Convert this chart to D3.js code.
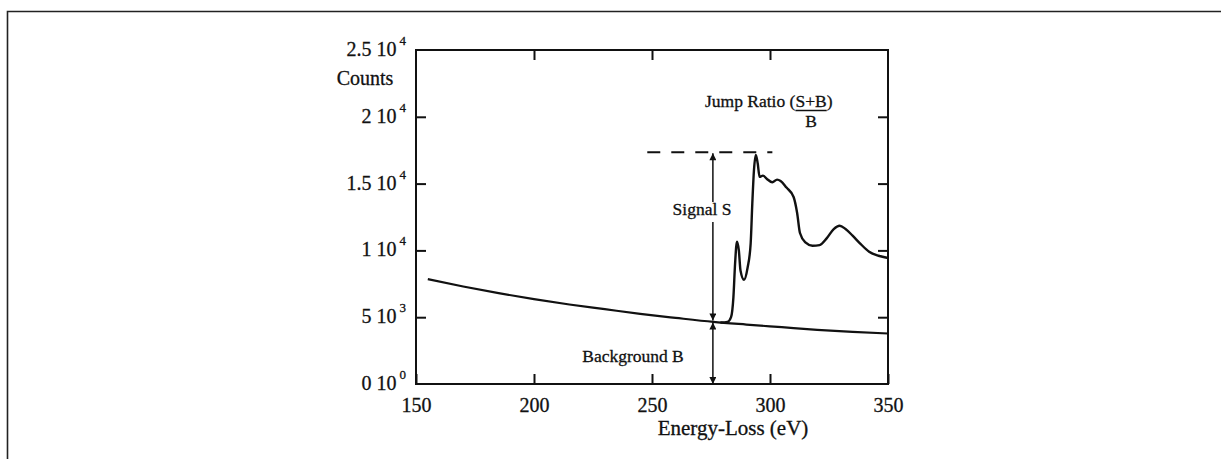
<!DOCTYPE html>
<html>
<head>
<meta charset="utf-8">
<script src="https://cdn.jsdelivr.net/npm/d3@7"></script>
<style>
  body { margin: 0; background: #fff; }
  svg text { font-family: "Liberation Serif", "DejaVu Serif", serif; fill: #111; stroke: #111; stroke-width: 0.3px; }
</style>
</head>
<body>
<div id="chart"></div>
<script>
// data
const xTicks = [150, 200, 250, 300, 350];
const yTicks = [0, 5000, 10000, 15000, 20000, 25000];
const yTickMantissa = ["0", "5", "1", "1.5", "2", "2.5"];
const yTickExponent = ["0", "3", "4", "4", "4", "4"];

// background curve (eV, counts)
const bgEnergy = [155, 170, 185, 200, 215, 230, 245, 260, 276, 290, 305, 320, 335, 350];
const bgCounts = [7850, 7300, 6800, 6350, 5950, 5600, 5250, 4950, 4650, 4450, 4250, 4050, 3900, 3780];

// edge spectrum (eV, counts)
const specEnergy = [279, 282, 283.5, 284.5, 285.2, 286, 286.8, 287.5, 289, 290.5, 291.8, 292.5, 293.2, 294,
  294.8, 295.6, 297, 298.7, 301, 303, 304.5, 307, 310, 311.5, 312.7, 315, 318, 321, 324, 327, 329.5,
  332, 335, 338, 342, 346, 350];
const specCounts = [4600, 4650, 5000, 6500, 9000, 10650, 10000, 8500, 7800, 8700, 10500, 13500, 16000, 17150,
  16500, 15500, 15600, 15350, 15100, 15300, 15200, 14700, 14000, 12800, 11300, 10600, 10350, 10400, 10900, 11600, 11850,
  11600, 11100, 10550, 9900, 9600, 9430];

// annotation values
const edgeEnergy = 275.8;
const edgeBackground = 4680;
const peakLevel = 17350;
const dashFrom = 248, dashTo = 301;

const svgWidth = 1221, svgHeight = 459;
const plot = { left: 416, right: 888, top: 50, bottom: 384 };

const svg = d3.select("#chart").append("svg")
  .attr("width", svgWidth)
  .attr("height", svgHeight);

// page frame (top and left edge only)
svg.append("path")
  .attr("d", `M7.5,${svgHeight} V11.5 H${svgWidth}`)
  .attr("fill", "none")
  .attr("stroke", "#222")
  .attr("stroke-width", 1.6);

const x = d3.scaleLinear().domain([150, 350]).range([plot.left, plot.right]);
const y = d3.scaleLinear().domain([0, 25000]).range([plot.bottom, plot.top]);

// axes with inward ticks
const tick = 10;
const gx = svg.append("g")
  .attr("transform", `translate(0,${plot.bottom})`)
  .call(d3.axisBottom(x).tickValues(xTicks).tickSizeInner(-tick).tickSizeOuter(0).tickPadding(14));
gx.selectAll("text").style("font-size", "20px");

svg.append("g")
  .attr("transform", `translate(0,${plot.top})`)
  .call(d3.axisTop(x).tickValues(xTicks.slice(1, -1)).tickSizeInner(-tick).tickSizeOuter(0).tickFormat(""));

svg.append("g")
  .attr("transform", `translate(${plot.left},0)`)
  .call(d3.axisLeft(y).tickValues(yTicks.slice(1, -1)).tickSizeInner(-tick).tickSizeOuter(0).tickFormat(""));

svg.append("g")
  .attr("transform", `translate(${plot.right},0)`)
  .call(d3.axisRight(y).tickValues(yTicks.slice(1, -1)).tickSizeInner(-tick).tickSizeOuter(0).tickFormat(""));

svg.selectAll(".domain").remove();
svg.selectAll(".tick line").attr("stroke", "#111").attr("stroke-width", 2);
svg.selectAll(".tick text").attr("fill", "#111");

// plot box
svg.append("rect")
  .attr("x", plot.left).attr("y", plot.top)
  .attr("width", plot.right - plot.left).attr("height", plot.bottom - plot.top)
  .attr("fill", "none").attr("stroke", "#111").attr("stroke-width", 2);

// y tick labels like "2.5 10^4"
const yLab = svg.selectAll(".ylab")
  .data(yTicks)
  .enter()
  .append("text")
  .attr("class", "ylab")
  .attr("x", plot.left - 10)
  .attr("y", d => y(d) + 6)
  .attr("text-anchor", "end")
  .style("font-size", "20px");
yLab.append("tspan").text((d, i) => yTickMantissa[i] + " 10");
yLab.append("tspan")
  .attr("dx", 3)
  .attr("dy", -11)
  .style("font-size", "13px")
  .text((d, i) => yTickExponent[i]);

svg.append("text")
  .attr("x", 365).attr("y", 85)
  .attr("text-anchor", "middle")
  .style("font-size", "20px")
  .text("Counts");

svg.append("text")
  .attr("x", 733).attr("y", 435)
  .attr("text-anchor", "middle")
  .style("font-size", "21px")
  .text("Energy-Loss (eV)");

// curves
const line = d3.line()
  .x(d => x(d[0]))
  .y(d => y(d[1]))
  .curve(d3.curveMonotoneX);

svg.append("path")
  .datum(d3.zip(bgEnergy, bgCounts))
  .attr("d", line)
  .attr("fill", "none").attr("stroke", "#111").attr("stroke-width", 2.2);

svg.append("path")
  .datum(d3.zip(specEnergy, specCounts))
  .attr("d", line)
  .attr("fill", "none").attr("stroke", "#111").attr("stroke-width", 2.4)
  .attr("stroke-linejoin", "round");

// dashed peak level
svg.append("line")
  .attr("x1", x(dashFrom)).attr("x2", x(dashTo))
  .attr("y1", y(peakLevel)).attr("y2", y(peakLevel))
  .attr("stroke", "#111").attr("stroke-width", 2)
  .attr("stroke-dasharray", "13,11");

// arrows
const defs = svg.append("defs");
defs.append("marker")
  .attr("id", "head")
  .attr("viewBox", "0 0 10 10")
  .attr("refX", 10).attr("refY", 5)
  .attr("markerWidth", 10).attr("markerHeight", 7)
  .attr("markerUnits", "userSpaceOnUse")
  .attr("orient", "auto-start-reverse")
  .append("path")
  .attr("d", "M0,0 L10,5 L0,10 Z")
  .attr("fill", "#111");

const ax = x(edgeEnergy);
const signalTextY = 215;

// signal arrow, broken by its label
svg.append("line")
  .attr("x1", ax).attr("x2", ax)
  .attr("y1", y(peakLevel) + 1).attr("y2", signalTextY - 13)
  .attr("stroke", "#111").attr("stroke-width", 1.5)
  .attr("marker-start", "url(#head)");
svg.append("line")
  .attr("x1", ax).attr("x2", ax)
  .attr("y1", signalTextY + 7).attr("y2", y(edgeBackground) - 1)
  .attr("stroke", "#111").attr("stroke-width", 1.5)
  .attr("marker-end", "url(#head)");

// background arrow
svg.append("line")
  .attr("x1", ax).attr("x2", ax)
  .attr("y1", y(edgeBackground) + 1).attr("y2", y(0))
  .attr("stroke", "#111").attr("stroke-width", 1.5)
  .attr("marker-start", "url(#head)")
  .attr("marker-end", "url(#head)");

svg.append("text")
  .attr("x", 702).attr("y", signalTextY)
  .attr("text-anchor", "middle")
  .style("font-size", "17.5px")
  .text("Signal S");

svg.append("text")
  .attr("x", 633).attr("y", 362)
  .attr("text-anchor", "middle")
  .style("font-size", "17.5px")
  .text("Background B");

// jump ratio label with fraction
const jr = svg.append("text")
  .attr("x", 705).attr("y", 107)
  .style("font-size", "17.5px");
jr.append("tspan").text("Jump Ratio (");
jr.append("tspan").attr("id", "num").text("S+B");
jr.append("tspan").text(")");

const numBox = svg.select("#num").node().getBBox();
svg.append("line")
  .attr("x1", numBox.x).attr("x2", numBox.x + numBox.width)
  .attr("y1", 110.5).attr("y2", 110.5)
  .attr("stroke", "#111").attr("stroke-width", 1.5);
svg.append("text")
  .attr("x", numBox.x + numBox.width / 2).attr("y", 127)
  .attr("text-anchor", "middle")
  .style("font-size", "17.5px")
  .text("B");
</script>
</body>
</html>
